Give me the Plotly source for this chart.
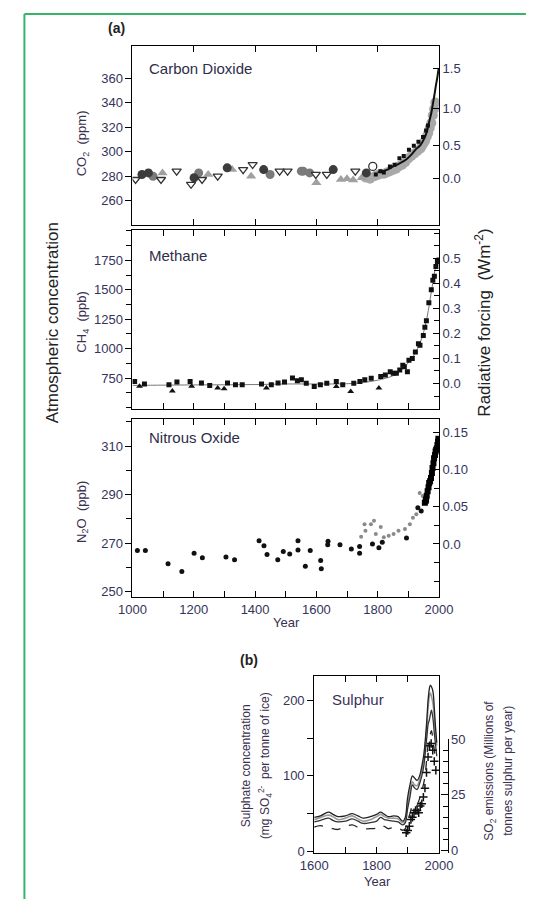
import math
import plotly.graph_objects as go

W, H = 538, 903

# ---------------- DATA ----------------
# (a) CO2, ppm
co2_dark_circ_year = [1031, 1052, 1201, 1309, 1428, 1655, 1763]
co2_dark_circ_ppm = [281.4, 282.7, 278.7, 286.8, 285.4, 285.4, 282.7]
co2_gray_circ_year = [1067, 1216, 1449, 1551, 1557, 1578]
co2_gray_circ_ppm = [280.0, 282.7, 281.4, 284.1, 284.1, 282.7]
co2_tri_up_year = [1098, 1247, 1325, 1387, 1600, 1680, 1700, 1720, 1748]
co2_tri_up_ppm = [282.7, 281.4, 285.4, 280.0, 274.7, 277.3, 277.9, 276.8, 278.7]
co2_tri_dn_year = [1010, 1093, 1144, 1191, 1227, 1278, 1361, 1392, 1480, 1506, 1598, 1634, 1727]
co2_tri_dn_ppm = [277.3, 277.3, 284.1, 273.4, 277.3, 280.0, 285.4, 289.5, 284.1, 284.1, 281.4, 281.4, 284.1]
co2_open_circ_year = [1784]
co2_open_circ_ppm = [288.0]
co2_band_year = [1760, 1775, 1790, 1800, 1810, 1820, 1830, 1840, 1850, 1860, 1870, 1880,
                 1890, 1900, 1910, 1920, 1930, 1940, 1945, 1950, 1955, 1960, 1965, 1970, 1975, 1980, 1984, 1988]
co2_band_ppm = [278.9, 277.9, 279.9, 281.0, 282.0, 282.0, 283.0, 284.1, 285.1, 286.1, 288.2, 289.3,
                291.3, 294.4, 296.5, 298.6, 300.6, 302.7, 304.8, 306.9, 308.9, 312.1, 315.2, 319.3, 323.4, 329.7, 334.8, 340.0]
co2_dot_year = [1794, 1809, 1820, 1840, 1855, 1871, 1885, 1902, 1918, 1933, 1948, 1958, 1964]
co2_dot_ppm = [281.4, 284.1, 283.0, 288.0, 289.3, 294.7, 296.5, 301.5, 304.8, 308.1, 312.0, 317.2, 321.4]
co2_line_year = [1800, 1830, 1851, 1870, 1892, 1910, 1923, 1940, 1954, 1962, 1969, 1975, 1980, 1985, 1990, 1995, 1999]
co2_line_ppm = [283.1, 285.1, 288.0, 290.3, 293.4, 297.6, 301.5, 305.6, 311.8, 318.0, 325.3, 331.5, 338.8, 346.0, 354.0, 361.0, 368.0]
co2_forcing_ticks = [0.0, 0.5, 1.0, 1.5]

# (a) CH4, ppb
ch4_sq_year = [1007, 1039, 1119, 1145, 1188, 1225, 1252, 1310, 1336, 1358, 1421, 1453, 1475, 1496,
               1522, 1538, 1551, 1567, 1593, 1613, 1634, 1665, 1686, 1722, 1742, 1758, 1779, 1810,
               1825, 1841, 1851, 1861, 1872, 1882, 1887, 1897, 1902, 1913, 1923, 1933, 1938, 1949,
               1954, 1959, 1967, 1975, 1980, 1985, 1990, 1995, 2000]
ch4_sq_ppb = [722, 700, 694, 716, 722, 708, 688, 708, 694, 694, 700, 694, 708, 716,
              750, 728, 735, 707, 679, 693, 707, 721, 693, 707, 721, 735, 748, 763,
              777, 804, 790, 790, 819, 860, 846, 804, 902, 916, 972, 1041, 1028, 1111,
              1181, 1237, 1390, 1500, 1580, 1614, 1697, 1739, 1752]
ch4_tri_year = [1023, 1130, 1193, 1278, 1299, 1437, 1665, 1712, 1804]
ch4_tri_ppb = [680, 640, 680, 666, 660, 666, 679, 637, 665]
ch4_fit_year = [1000, 1100, 1200, 1300, 1400, 1500, 1600, 1700, 1750, 1800, 1850, 1875, 1900,
                1920, 1940, 1950, 1960, 1970, 1980, 1990, 2000]
ch4_fit_ppb = [688, 690, 692, 693, 695, 700, 700, 702, 712, 732, 770, 815, 880,
               950, 1060, 1140, 1250, 1400, 1560, 1700, 1760]
ch4_forcing_ticks = [0.0, 0.1, 0.2, 0.3, 0.4, 0.5]

# (a) N2O, ppb
n2o_black_year = [1016, 1042, 1116, 1161, 1201, 1228, 1305, 1333, 1413, 1429, 1439, 1474, 1492, 1513,
                  1540, 1540, 1564, 1580, 1614, 1616, 1638, 1637, 1677, 1714, 1741, 1741, 1783, 1804,
                  1815, 1894, 1931, 1942]
n2o_black_ppb = [267.0, 267.0, 261.5, 258.4, 265.9, 264.0, 264.3, 263.2, 271.0, 269.0, 265.3, 263.2, 266.6, 265.6,
                 271.0, 267.2, 260.5, 267.0, 262.9, 259.5, 270.8, 269.4, 269.4, 267.6, 265.9, 268.6, 269.7, 268.1,
                 270.4, 272.1, 284.6, 283.3]
n2o_gray_year = [1746, 1757, 1778, 1760, 1788, 1794, 1810, 1820, 1836, 1852, 1868, 1889, 1905, 1915,
                 1926, 1937, 1947, 1968]
n2o_gray_ppb = [272.7, 277.8, 277.8, 275.1, 279.2, 273.8, 276.7, 272.4, 273.1, 273.8, 275.1, 275.8, 277.8, 280.5,
                281.9, 290.7, 289.4, 293.4]
n2o_recent_year = [1954, 1957, 1958, 1960, 1963, 1966, 1968, 1971, 1974, 1977, 1979, 1982, 1984, 1987,
                   1989, 1991, 1993, 1995, 1997, 1998]
n2o_recent_ppb = [286.6, 287.5, 288.0, 289.5, 291.4, 293.0, 294.8, 295.5, 296.8, 298.9, 300.9, 302.9, 305.0, 306.3,
                  307.7, 308.5, 309.0, 310.4, 311.8, 313.0]
n2o_forcing_ticks = [0.0, 0.05, 0.10, 0.15]
n2o_forcing_labels = ["0.0", "0.05", "0.10", "0.15"]

# (b) Sulphur
sul_year = [1600, 1620, 1646, 1660, 1676, 1700, 1722, 1740, 1757, 1780, 1800, 1813, 1825, 1838, 1855,
            1869, 1884, 1892, 1899, 1907, 1915, 1922, 1930, 1938, 1945, 1952, 1958, 1962, 1965, 1969,
            1972, 1976, 1981, 1985, 1988, 1993]
sul_core_a = [45, 47, 52, 49, 46, 47, 50, 47, 44, 46, 49, 52, 49, 46, 47,
              46, 40, 45, 70, 88, 100, 97, 94, 100, 113, 130, 157, 180, 200, 215,
              220, 218, 211, 190, 170, 144]
sul_core_b = [42, 45, 48, 46, 42, 44, 47, 43, 40, 42, 46, 49, 46, 44, 44,
              43, 38, 42, 62, 80, 92, 88, 87, 95, 108, 125, 150, 170, 190, 205,
              210, 205, 195, 178, 160, 140]
sul_core_c = [39, 41, 44, 41, 39, 40, 43, 40, 37, 38, 40, 45, 42, 41, 40,
              39, 35, 38, 55, 72, 88, 84, 82, 90, 100, 115, 139, 155, 168, 174,
              180, 187, 175, 157, 145, 126]
sul_core_d = [32, 34, 31, 30, 29, 33, 35, 32, 30, 30, 31, 34, 33, 30, 32,
              31, 28, 30, 40, 50, 60, 58, 62, 70, 80, 92, 110, 130, 140, 150,
              155, 160, 145, 135, 125, 120]
so2_year = [1895, 1900, 1905, 1910, 1915, 1920, 1925, 1930, 1935, 1940, 1945, 1950, 1955, 1960,
            1965, 1970, 1975, 1980, 1985, 1990]
so2_emis = [8, 9, 11, 14, 15, 17, 18, 18, 17, 20, 21, 24, 28, 35, 42, 47, 48, 45, 40, 36]

# ---------------- LAYOUT HELPERS ----------------
def fx(px):
    return px / W

def fy(py):
    return 1 - py / H

TXT = "#34345a"
FONT = "Liberation Sans"
AX_X = [fx(125), fx(448.3)]
CO2_RANGE = [240.6, 385.8]

fig = go.Figure()

def sc(x, y, xa, ya, **kw):
    fig.add_trace(go.Scatter(x=x, y=y, xaxis=xa, yaxis=ya, showlegend=False, hoverinfo="skip", **kw))

# CO2
sc(co2_band_year, co2_band_ppm, "x", "y", mode="markers",
   marker=dict(symbol="circle", size=10, color="#a9a9a9"))
sc(co2_tri_up_year, co2_tri_up_ppm, "x", "y", mode="markers",
   marker=dict(symbol="triangle-up", size=9, color="#a0a0a0"))
sc(co2_gray_circ_year, co2_gray_circ_ppm, "x", "y", mode="markers",
   marker=dict(symbol="circle", size=9, color="#7a7a7a"))
sc(co2_dark_circ_year, co2_dark_circ_ppm, "x", "y", mode="markers",
   marker=dict(symbol="circle", size=9, color="#3c3c3c"))
sc(co2_tri_dn_year, co2_tri_dn_ppm, "x", "y", mode="markers",
   marker=dict(symbol="triangle-down", size=8, color="white", line=dict(color="#333", width=1.3)))
sc(co2_open_circ_year, co2_open_circ_ppm, "x", "y", mode="markers",
   marker=dict(symbol="circle-open", size=8, color="#333", line=dict(width=1.3)))
sc(co2_dot_year, co2_dot_ppm, "x", "y", mode="markers",
   marker=dict(symbol="square", size=4, color="#111"))
# smooth CO2 line drawn against the identical-range right axis so that axis carries data
sc(co2_line_year, co2_line_ppm, "x", "y2", mode="lines",
   line=dict(color="#111", width=2, shape="spline"))

# CH4
sc(ch4_fit_year, ch4_fit_ppb, "x2", "y3", mode="lines",
   line=dict(color="#777", width=1, shape="spline"))
sc(ch4_sq_year, ch4_sq_ppb, "x2", "y3", mode="markers",
   marker=dict(symbol="square", size=5, color="#111"))
sc(ch4_tri_year, ch4_tri_ppb, "x2", "y3", mode="markers",
   marker=dict(symbol="triangle-up", size=6, color="#111"))
sc(ch4_fit_year[:1], ch4_forcing_ticks[:1], "x2", "y4", mode="markers",
   marker=dict(opacity=0, size=1))

# N2O
sc(n2o_gray_year, n2o_gray_ppb, "x3", "y5", mode="markers",
   marker=dict(symbol="circle", size=4, color="#8a8a8a"))
sc(n2o_black_year, n2o_black_ppb, "x3", "y5", mode="markers",
   marker=dict(symbol="circle", size=5, color="#111"))
sc(n2o_recent_year, n2o_recent_ppb, "x3", "y5", mode="markers",
   marker=dict(symbol="square", size=6, color="#000"))
sc(n2o_black_year[:1], n2o_forcing_ticks[:1], "x3", "y6", mode="markers",
   marker=dict(opacity=0, size=1))

# Sulphur
sc(sul_year, sul_core_b, "x4", "y7", mode="lines", line=dict(color="#9a9a9a", width=1.6, shape="spline"))
sc(sul_year, sul_core_a, "x4", "y7", mode="lines", line=dict(color="#222", width=1.3, shape="spline"))
sc(sul_year, sul_core_c, "x4", "y7", mode="lines", line=dict(color="#333", width=1.3, shape="spline"))
sc(sul_year, sul_core_d, "x4", "y7", mode="lines", line=dict(color="#222", width=1.3, dash="dash", shape="spline"))
sc(so2_year, so2_emis, "x4", "y8", mode="markers",
   marker=dict(symbol="cross-thin-open", size=6, color="#111", line=dict(width=1.5)))

tickfont = dict(family=FONT, size=13, color=TXT)
common_x = dict(showline=True, linecolor="black", linewidth=1, ticks="inside", ticklen=6,
                tickcolor="black", mirror="ticks", showgrid=False, zeroline=False, tickfont=tickfont)
common_yl = dict(showline=True, linecolor="black", linewidth=1, ticks="outside", ticklen=6,
                 tickcolor="black", showgrid=False, zeroline=False, tickfont=tickfont)
common_yr = dict(showline=True, linecolor="black", linewidth=1, ticks="inside", ticklen=6,
                 tickcolor="black", showgrid=False, zeroline=False, tickfont=tickfont, side="right",
                 showticklabels=True)

co2_right_vals = [278 * math.exp(F / 5.35) for F in co2_forcing_ticks]
x_minor = dict(tick0=0, dtick=100, ticks="inside", ticklen=6, tickcolor="black")

fig.update_layout(
    width=W, height=H, margin=dict(l=0, r=0, t=0, b=0),
    paper_bgcolor="white", plot_bgcolor="rgba(0,0,0,0)",
    font=dict(family=FONT, color=TXT),
    xaxis=dict(domain=AX_X, anchor="y", range=[1000, 2000],
               tickvals=list(range(1000, 2001, 200)), showticklabels=False, **common_x),
    yaxis=dict(domain=[fy(220.7), fy(40)], anchor="x", range=CO2_RANGE,
               tickvals=[260, 280, 300, 320, 340, 360], **common_yl),
    yaxis2=dict(overlaying="y", anchor="x", range=CO2_RANGE, tickvals=co2_right_vals,
                ticktext=["%.1f" % F for F in co2_forcing_ticks], **common_yr),
    xaxis2=dict(domain=AX_X, anchor="y3", range=[1000, 2000],
                tickvals=list(range(1000, 2001, 100)), showticklabels=False, **common_x),
    yaxis3=dict(domain=[fy(408.3), fy(226.7)], anchor="x2", range=[483.9, 2003.6],
                tickvals=[750, 1000, 1250, 1500, 1750],
                minor=dict(tick0=0, dtick=125, ticks="outside", ticklen=5, tickcolor="black"),
                **common_yl),
    yaxis4=dict(overlaying="y3", anchor="x2", range=[-0.1035, 0.6114],
                tickvals=ch4_forcing_ticks, ticktext=["%.1f" % v for v in ch4_forcing_ticks],
                minor=dict(tick0=0, dtick=0.05, ticks="inside", ticklen=5, tickcolor="black"),
                **common_yr),
    xaxis3=dict(domain=AX_X, anchor="y5", range=[1000, 2000],
                tickvals=list(range(1000, 2001, 200)), minor=x_minor, **common_x),
    yaxis5=dict(domain=[fy(599), fy(418.3)], anchor="x3", range=[247.7, 321],
                tickvals=[250, 270, 290, 310],
                minor=dict(tick0=0, dtick=10, ticks="outside", ticklen=5, tickcolor="black"),
                **common_yl),
    yaxis6=dict(overlaying="y5", anchor="x3", range=[-0.0719, 0.1678],
                tickvals=n2o_forcing_ticks, ticktext=n2o_forcing_labels,
                minor=dict(tick0=0, dtick=0.025, ticks="inside", ticklen=5, tickcolor="black"),
                **common_yr),
    xaxis4=dict(domain=[fx(316.7), fx(448.3)], anchor="y7", range=[1600, 2000],
                tickvals=[1600, 1800, 2000], minor=x_minor, **common_x),
    yaxis7=dict(domain=[fy(858.3), fy(678.3)], anchor="x4", range=[-2.1, 232.9],
                tickvals=[0, 100, 200],
                minor=dict(tick0=0, dtick=50, ticks="outside", ticklen=6, tickcolor="black"),
                showline=True, linecolor="black", linewidth=1, ticks="outside", ticklen=6,
                tickcolor="black", showgrid=False, zeroline=False, tickfont=tickfont, mirror=True),
    yaxis8=dict(domain=[fy(858.3), fy(742.7)], anchor="free", position=fx(457.3), side="right",
                range=[-1.0, 50], tickvals=[0, 25, 50],
                minor=dict(tick0=0, dtick=5, ticks="inside", ticklen=5, tickcolor="black"),
                showline=True, linecolor="black", linewidth=1, ticks="inside", ticklen=7,
                tickcolor="black", showgrid=False, zeroline=False, tickfont=tickfont),
)

def ann(text, px, py, size=13, angle=0, xanchor="center", bold=False, color=TXT):
    fig.add_annotation(text=("<b>%s</b>" % text) if bold else text, x=fx(px), y=fy(py),
                       xref="paper", yref="paper", showarrow=False, textangle=angle,
                       xanchor=xanchor, yanchor="middle",
                       font=dict(family=FONT, size=size, color=color))

ann("(a)", 108, 21, size=14, bold=True, color="#222")
ann("(b)", 248, 663, size=14, bold=True, color="#222")
ann("Carbon Dioxide", 140, 62, size=15, xanchor="left", color="#2e2e4a")
ann("Methane", 140, 252, size=15, xanchor="left", color="#2e2e4a")
ann("Nitrous Oxide", 140, 437, size=15, xanchor="left", color="#2e2e4a")
ann("Sulphur", 333, 703, size=15, xanchor="left", color="#3a2f5a")
ann("Atmospheric concentration", 40, 320, size=17, angle=-90, color="#222")
ann("Radiative forcing  (Wm<sup>-2</sup>)", 495, 320, size=17, angle=-90, color="#222")
ann("CO<sub>2</sub>  (ppm)", 72, 138, size=13, angle=-90, color="#3a3050")
ann("CH<sub>4</sub>  (ppb)", 72, 320, size=13, angle=-90, color="#3a3050")
ann("N<sub>2</sub>O  (ppb)", 72, 512, size=13, angle=-90, color="#3a3050")
ann("Year", 287, 624, size=13, color="#3a3050")
ann("Year", 383, 887, size=13, color="#3a3050")
ann("Sulphate concentration", 245, 770, size=12, angle=-90, color="#3a3050")
ann("(mg SO<sub>4</sub><sup>2-</sup>  per tonne of ice)", 265, 770, size=12, angle=-90, color="#3a3050")
ann("SO<sub>2</sub> emissions (Millions of", 502, 775, size=12, angle=-90, color="#3a3050")
ann("tonnes sulphur per year)", 521, 775, size=12, angle=-90, color="#3a3050")

# green frame of the figure
GREEN = "#35b46a"
fig.add_shape(type="line", xref="paper", yref="paper", x0=fx(11), x1=fx(11), y0=fy(7), y1=fy(905),
              line=dict(color=GREEN, width=2))
fig.add_shape(type="line", xref="paper", yref="paper", x0=fx(11), x1=fx(540), y0=fy(7), y1=fy(7),
              line=dict(color=GREEN, width=2))

fig.write_html("out.html")
